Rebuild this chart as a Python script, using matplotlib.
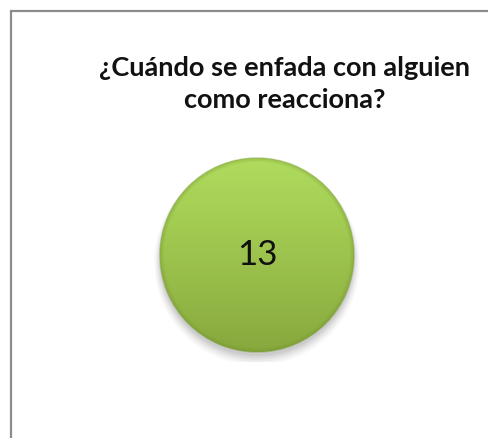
import numpy as np
import matplotlib
matplotlib.use("Agg")
import matplotlib.pyplot as plt
from matplotlib.patches import Rectangle, Circle
from matplotlib.colors import LinearSegmentedColormap

title = "¿Cuándo se enfada con alguien\ncomo reacciona?"
categories = ["Respuesta"]
values = [13]

W, H = 489, 438
fig = plt.figure(figsize=(W / 100, H / 100), dpi=100)
fig.patch.set_facecolor("white")

# outer frame
fig.add_artist(Rectangle((10.5 / W, -0.01), 1.0, 1 - 10.5 / H + 0.01,
                         transform=fig.transFigure, fill=False,
                         edgecolor="#8c8c8c", lw=1.6))

fig.text(285 / W, 1 - 84 / H, title, ha="center", va="center",
         fontsize=19.5, fontweight="bold", family="Lato", color="#111111",
         linespacing=1.35)

cx, cy, r = 257, 255, 97
ax = fig.add_axes([(cx - r - 10) / W, (H - cy - r - 10) / H, (2 * r + 20) / W, (2 * r + 20) / H])
ext = 1 + 10 / r
ax.set_xlim(-ext, ext)
ax.set_ylim(-ext, ext)
ax.axis("off")

# soft shadow
for i, a in enumerate(np.linspace(0.05, 0.02, 6)):
    ax.add_patch(Circle((0, -0.04 - 0.008 * i), 1.0 + 0.012 * i, color="black", alpha=a, lw=0, zorder=0))

wedges, _ = ax.pie(values, labels=None, radius=1.0, startangle=90,
                   colors=["#9ec64e"], wedgeprops=dict(lw=0), frame=False)
ax.set_xlim(-ext, ext)
ax.set_ylim(-ext, ext)

cmap = LinearSegmentedColormap.from_list("g", ["#afdb5e", "#a3cc53", "#96bb48", "#87a83d"])
yy = np.linspace(0, 1, 256)[:, None] * np.ones((1, 4))
img = ax.imshow(yy, cmap=cmap, extent=[-1, 1, -1, 1], aspect="auto", zorder=2,
                vmin=0, vmax=1, origin="upper")
img.set_clip_path(wedges[0])

# rim shading
for rr, a in [(1.0, 0.35), (0.985, 0.2), (0.97, 0.1)]:
    ax.add_patch(Circle((0, 0), rr, fill=False, edgecolor="#6f8e2c", lw=1.2, alpha=a, zorder=3))

ax.text(0, 0.0, str(values[0]), ha="center", va="center", fontsize=25,
        family="Lato", color="#111111", zorder=4)

fig.savefig("out.png", dpi=100)
